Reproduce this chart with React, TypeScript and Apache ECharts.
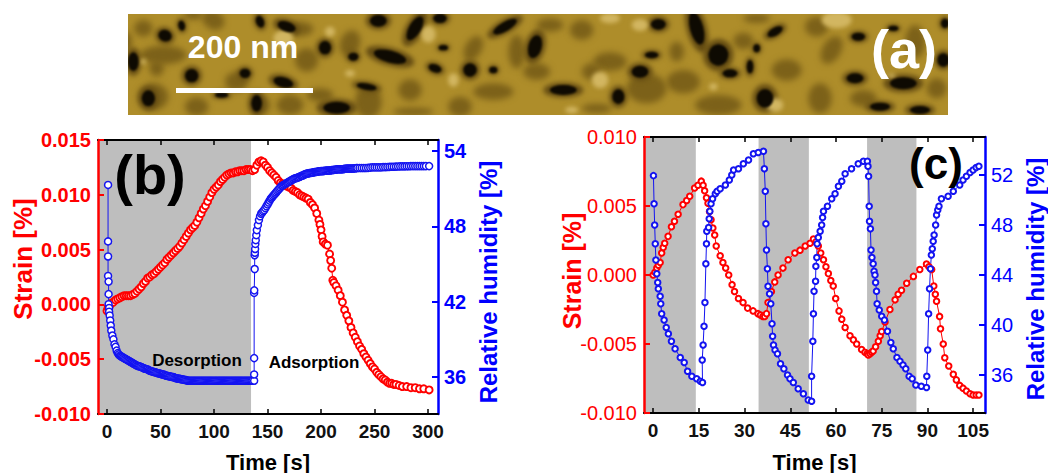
import React, { useEffect, useRef } from "react";
import * as echarts from "echarts";

const xTicksB = [0, 50, 100, 150, 200, 250, 300];
const xTicksC = [0, 15, 30, 45, 60, 75, 90, 105];
const rhTicksB = [36, 42, 48, 54];
const rhTicksC = [36, 40, 44, 48, 52];

const strainB: number[][] = [
  [0,-.0006],[1,-.0003],[2,-.0001],[3,0],[4,.0001],[6,.0002],[8,.0004],[10,.0005],[12,.0006],[14,.0007],[16,.0008],[18,.0008],[20,.0008],[22,.0008],[24,.0009],[26,.001],[28,.0012],[30,.0014],[32,.0016],[34,.0019],[36,.0021],[38,.0024],[40,.0025],[42,.0027],[44,.0028],[46,.003],[48,.0032],[50,.0034],[52,.0036],[54,.0038],[56,.0041],[58,.0043],[60,.0045],[62,.0047],[64,.0049],[66,.0051],[68,.0053],[70,.0056],[72,.0059],[74,.0062],[76,.0065],[78,.0068],[80,.007],[82,.0072],[84,.0075],[86,.0079],[88,.0083],[90,.0087],[92,.009],[94,.0094],[96,.0098],[98,.0102],[100,.0105],[102,.0107],[104,.0109],[106,.0112],[108,.0114],[110,.0116],[112,.0118],[114,.0119],[116,.012],[118,.012],[120,.0121],[122,.0121],[124,.0122],[126,.0122],[128,.0122],[130,.0123],[132,.0123],[134,.0123],[136,.0122],[138,.0123],[140,.0127],[142,.013],[144,.0131],[146,.013],[148,.0127],[150,.0125],[152,.0122],[154,.012],[156,.0118],[158,.0116],[160,.0113],[162,.0111],[164,.011],[166,.0109],[168,.0108],[170,.0107],[172,.0106],[174,.0104],[176,.0103],[178,.0102],[180,.01],[182,.0099],[184,.0098],[186,.0097],[188,.0096],[190,.0093],[192,.0091],[194,.0088],[196,.0083],[198,.0077],[199,.0073],[200,.0068],[201,.0062],[202,.0057],[204,.0055],[206,.0054],[208,.0046],[209,.004],[210,.0033],[211,.0022],[212,.002],[214,.0017],[216,.0013],[218,.0008],[220,.0002],[222,-.0005],[224,-.001],[226,-.0015],[228,-.0021],[230,-.0026],[232,-.003],[234,-.0034],[236,-.0038],[238,-.0041],[240,-.0045],[242,-.0048],[244,-.0051],[246,-.0054],[248,-.0057],[250,-.0059],[252,-.0062],[254,-.0064],[256,-.0066],[258,-.0068],[260,-.0069],[262,-.0071],[264,-.0072],[266,-.0072],[268,-.0073],[270,-.0073],[273,-.0074],[276,-.0075],[280,-.0075],[284,-.0076],[288,-.0076],[292,-.0077],[296,-.0077],[301,-.0078],
];
const humidityB: number[][] = [
  [1,51.3],[1,46.8],[1,45.6],[1,44.05],[1.5,43.6],[1.5,42.6],[1.5,41.8],[2,41.5],[2,41.2],[2.5,40.9],[3,40.5],[3.5,40.1],[4,39.7],[5,39.3],[6,39],[7,38.6],[8,38.4],[9,38.1],[10,37.9],[11,37.8],[12,37.7],[13,37.65],[14,37.6],[15,37.55],[16,37.5],[17,37.45],[18,37.4],[19,37.35],[20,37.3],[21,37.25],[22,37.2],[23,37.15],[24,37.1],[25,37.05],[26,37],[27,36.95],[28,36.9],[29,36.87],[30,36.85],[31,36.82],[32,36.8],[33,36.75],[34,36.7],[35,36.67],[36,36.65],[37,36.62],[38,36.6],[39,36.55],[40,36.5],[41,36.47],[42,36.45],[43,36.42],[44,36.4],[45,36.37],[46,36.35],[47,36.32],[48,36.3],[49,36.27],[50,36.25],[51,36.23],[52,36.2],[53,36.2],[54,36.15],[55,36.12],[56,36.1],[57,36.08],[58,36.05],[59,36.05],[60,36.02],[61,36],[62,36],[63,35.95],[64,35.92],[65,35.9],[66,35.88],[67,35.86],[68,35.85],[69,35.83],[70,35.82],[71,35.8],[72,35.78],[73,35.76],[74,35.75],[75,35.72],[76,35.7],[77,35.7],[78,35.7],[79,35.7],[80,35.7],[81,35.7],[82,35.7],[83,35.7],[84,35.7],[85,35.7],[86,35.7],[87,35.7],[88,35.7],[89,35.7],[90,35.7],[91,35.7],[92,35.7],[93,35.7],[94,35.7],[95,35.7],[96,35.7],[97,35.7],[98,35.7],[99,35.7],[100,35.7],[101,35.7],[102,35.7],[103,35.7],[104,35.7],[105,35.7],[106,35.7],[107,35.7],[108,35.7],[109,35.7],[110,35.7],[111,35.7],[112,35.7],[113,35.7],[114,35.7],[115,35.7],[116,35.7],[117,35.7],[118,35.7],[119,35.7],[120,35.7],[121,35.7],[122,35.7],[123,35.7],[124,35.7],[125,35.7],[126,35.7],[127,35.7],[128,35.7],[129,35.7],[130,35.7],[131,35.7],[132,35.7],[133,35.7],[134,35.7],[135,35.7],[136,35.7],[137.5,35.7],[137.5,36.2],[137.5,37.5],[137.5,42.7],[137.6,42.9],[138,44.6],[138,45.7],[138.2,45.9],[138.4,46.2],[138.6,46.6],[139,46.9],[139.5,47.3],[140,47.7],[141,48.1],[142,48.5],[143,48.8],[144,49],[145,49.1],[146,49.2],[147,49.3],[148,49.45],[149,49.6],[150,49.75],[151,49.9],[152,50.05],[153,50.2],[154,50.3],[155,50.4],[156,50.5],[157,50.6],[158,50.7],[159,50.8],[160,50.9],[161,51],[162,51.1],[163,51.2],[164,51.25],[165,51.3],[166,51.35],[167,51.4],[168,51.45],[169,51.5],[170,51.55],[171,51.6],[172,51.65],[173,51.7],[174,51.75],[175,51.8],[176,51.82],[177,51.85],[178,51.88],[179,51.9],[180,51.95],[181,52],[182,52.02],[183,52.05],[184,52.1],[185,52.15],[186,52.18],[187,52.2],[188,52.22],[189,52.24],[190,52.25],[191,52.27],[192,52.28],[193,52.3],[194,52.32],[195,52.33],[196,52.35],[197,52.36],[198,52.38],[199,52.39],[200,52.4],[201,52.4],[202,52.4],[203,52.42],[204,52.43],[205,52.44],[206,52.45],[207,52.45],[208,52.45],[209,52.47],[210,52.48],[211,52.49],[212,52.5],[213,52.51],[214,52.52],[215,52.54],[216,52.55],[217,52.55],[218,52.55],[219,52.55],[220,52.55],[221,52.57],[222,52.58],[223,52.59],[224,52.6],[225,52.6],[226,52.6],[227,52.6],[228,52.6],[229,52.61],[230,52.61],[231,52.62],[232,52.63],[233,52.64],[234,52.65],[236,52.65],[238,52.65],[240,52.65],[242,52.65],[244,52.66],[246,52.68],[248,52.7],[250,52.7],[252,52.7],[254,52.7],[256,52.7],[258,52.72],[260,52.72],[262,52.73],[264,52.74],[266,52.75],[268,52.75],[270,52.76],[272,52.77],[274,52.78],[276,52.78],[278,52.78],[280,52.79],[282,52.79],[284,52.8],[286,52.8],[288,52.8],[290,52.8],[292,52.8],[294,52.8],[296,52.8],[298,52.8],[301,52.8],
];
const strainC: number[][] = [
  [0,0],[.6,.0002],[1.2,.0005],[1.7,.0007],[2.3,.0009],[2.8,.0016],[3.3,.002],[3.8,.0023],[4.9,.0028],[6,.0035],[7,.0039],[8.2,.0044],[9.8,.0051],[11,.0054],[12,.0057],[13.6,.0063],[14.7,.0065],[15.8,.0068],[16.4,.0065],[16.9,.0061],[17.5,.0056],[18,.0052],[18.5,.0046],[19,.004],[19.6,.0034],[20.2,.0029],[20.7,.0021],[22,.0014],[22.9,.0009],[23.8,.0005],[24.8,0],[25.9,-.0007],[26.7,-.0012],[28,-.0017],[29.5,-.002],[31,-.0024],[32.8,-.0026],[34.4,-.0028],[35.2,-.0029],[36,-.003],[36.6,-.003],[37.2,-.0028],[37.7,-.002],[38.8,-.0012],[39.9,-.0005],[41,0],[42.6,.0005],[44.3,.0011],[46.5,.0016],[48.2,.0018],[49.9,.0021],[51.5,.0023],[52.6,.0026],[53.4,.0024],[54.2,.0021],[55,.0016],[55.9,.0011],[56.7,.0006],[57.5,.0001],[58.3,-.0004],[59.1,-.0008],[59.9,-.0017],[61,-.0026],[61.9,-.0032],[63,-.0038],[64.6,-.0044],[65.7,-.0047],[66.8,-.005],[68.4,-.0054],[69.5,-.0056],[70.2,-.0057],[70.6,-.0058],[71.2,-.0057],[71.7,-.0056],[72.2,-.0055],[73,-.0052],[73.9,-.0048],[74.5,-.0044],[75,-.0041],[76.1,-.0034],[77.7,-.0025],[79.4,-.0018],[80.4,-.0014],[81.5,-.0011],[83.2,-.0006],[85.4,-.0001],[87.5,.0004],[89.7,.0008],[90.5,.0006],[91.4,.0004],[92.1,-.0008],[92.6,-.0014],[93,-.0019],[94,-.003],[94.3,-.0039],[95.2,-.005],[95.7,-.006],[97,-.0066],[98.5,-.0072],[99.5,-.0076],[100.6,-.008],[101.7,-.0082],[102.8,-.0084],[104,-.0086],[105,-.0087],[106,-.0087],[106.9,-.0087],
];
const humidityC: number[][] = [
  [.1,51.95],[.3,49.7],[.5,48],[.7,46.5],[.9,45.2],[1.2,44.1],[1.5,43.4],[1.7,42.9],[2.3,42.3],[2.5,41.7],[2.8,40.9],[3.6,40.4],[4.3,39.8],[5,39.3],[6,38.7],[7.2,38.1],[8.9,37.4],[10.2,37],[11.3,36.3],[12.7,35.9],[14.3,35.7],[15.5,35.5],[16.2,35.4],
  [16.1,37.2],[16.4,38.4],[16.7,39.9],[17,41.8],[17.3,44.9],[17.5,46.5],[17.6,47.5],[18.2,47.8],[18.4,48.5],[18.6,49.1],[19,49.7],[19.5,50.1],[20.4,50.5],[21,50.7],[22,50.9],[23.7,51.2],[25,51.6],[25.8,52],[26.4,52.4],[28,52.5],[29.6,52.9],[31.3,53.2],[32.9,53.7],[34.5,53.8],[36.2,53.9],
  [36.5,52.5],[36.8,50.7],[37,48.1],[37.2,46],[37.5,44.5],[37.7,43.1],[38.2,42.5],[38.6,41.7],[39,40.1],[39.2,39.1],[39.5,38.4],[40,38],[40.8,37.7],[41.8,36.9],[42.9,36.5],[44.1,36],[44.9,35.7],[46,35.4],[47.6,34.9],[49.3,34.5],[50.9,34],[52,33.9],
  [52,35.9],[52.4,38.7],[52.6,40.9],[52.8,42.7],[53.3,43.5],[53.4,44.7],[53.7,45.4],[53.8,46.5],[54.2,47],[54.8,47.5],[55.3,48],[55.6,48.6],[55.9,49.1],[57.2,49.5],[58.6,50.1],[59.7,50.5],[60.8,51.1],[61.9,51.5],[63,52.1],[65.1,52.5],[67.3,52.9],[69,53.1],[70.3,53.1],
  [70.5,52.7],[70.7,51.9],[70.9,49.5],[71,48.3],[71.3,47.7],[71.5,46],[71.8,45.4],[72.2,44.9],[72.5,44.3],[72.8,44],[73,43.4],[73.3,42.7],[73.5,41.7],[74.2,41.2],[75,40.7],[75.9,40.4],[76.9,39.5],[78,38.6],[78.8,38.1],[80,37.4],[81,37.1],[82,36.8],[82.9,36.5],[84,35.9],[85,35.7],[86.2,35.2],[88,35.1],[89.7,35],
  [89.8,35.9],[90.1,38],[90.4,40.9],[90.7,42.9],[91,44.5],[91.3,45.6],[91.6,46.1],[91.9,46.7],[92.2,47.2],[92.7,48],[93,48.8],[93.4,49.2],[93.8,49.5],[94.6,50.1],[96.8,50.3],[98.5,50.7],[100.6,51.2],[101.7,51.6],[102.8,51.9],[104,52.2],[105,52.4],[106,52.6],[106.9,52.7],
];
const desorptionB = [[-8.4, 134.6]];
const desorptionC = [[-3, 14], [34.6, 51.1], [70.2, 86.4]];

// Micrograph features: [centre x, centre y, radius x, radius y, rotation°] in page pixels (from the reference crops)
const z5 = (a: number[]) => [120 + a[0] / 3, 5 + a[1] / 3, a[2] / 3, a[3] / 3, a[4] || 0];
const z6 = (a: number[]) => [530 + a[0] / 3, 5 + a[1] / 3, a[2] / 3, a[3] / 3, a[4] || 0];
const photoMid = [
  ...[[70,70,28,25],[280,45,35,28,30],[540,72,40,22],[110,190,22,24],[350,230,35,30],[100,275,45,40],[690,115,30,40,20],[745,290,40,50],[870,255,35,32],[1020,305,35,30],[560,165,35,35],[230,305,35,28],[510,300,40,30],[130,150,70,28],[1190,140,25,50],[420,300,30,30],[600,270,40,20],[1120,260,60,25],[1060,130,25,40,30],[880,320,60,12],[220,30,30,14],[20,110,16,30]].map(z5),
  ...[[155,75,35,30],[640,108,30,25],[770,195,45,32],[460,230,50,35],[350,250,60,45],[565,300,70,30],[240,170,50,28],[440,140,22,30],[905,135,28,45,30],[1155,110,30,50],[870,280,35,45],[185,200,30,25],[200,310,45,14],[860,65,35,30],[60,60,40,20],[20,200,40,25],[680,40,40,14],[1000,280,40,25],[1220,250,30,30]].map(z6),
];
const photoDark = [
  ...[[135,92,20,17,20],[185,62,10,15,-10],[420,50,12,18,-20],[500,65,28,15,20],[40,170,16,28],[215,212,20,20],[85,280,20,24],[375,205,16,14],[490,232,30,15,15],[615,128,18,20],[700,155,15,12],[775,47,25,18],[885,70,18,40,30],[810,155,50,18,15],[970,128,14,8],[945,190,20,12,20],[1050,195,20,20,20],[1155,65,40,14,-30],[960,40,20,14],[740,245,30,10,10],[650,308,40,18],[305,270,20,8],[410,295,16,25],[1120,195,12,10]].map(z5),
  ...[[15,125,20,35,15],[385,58,22,16],[500,70,20,50,-15],[565,150,30,32,10],[680,130,10,12],[735,80,25,12,-30],[985,95,20,12],[1090,70,15,8],[1240,165,18,20],[1245,55,12,14],[1120,235,40,18],[975,220,25,15],[600,205,22,12],[330,200,25,18],[265,275,18,22],[100,255,40,15],[705,280,25,28],[1050,305,30,12],[1170,315,30,12],[365,150,20,10],[660,185,10,20]].map(z6),
];
const photoLight = [
  ...[[490,100,30,25],[630,80,15,15],[925,88,22,25],[690,205,15,10],[1000,225,16,20],[70,170,8,8]].map(z5),
  ...[[550,245,12,10],[1085,212,12,6],[210,225,25,25],[125,315,20,10],[240,40,30,15],[330,60,25,18],[920,45,45,25],[735,300,25,20]].map(z6),
];

const PHOTO = { x: 128, y: 14, w: 820, h: 101 };

function makePhoto(): string {
  const c = document.createElement("canvas");
  c.width = PHOTO.w;
  c.height = PHOTO.h;
  const g = c.getContext("2d")!;
  g.fillStyle = "#AE8D2A";
  g.fillRect(0, 0, PHOTO.w, PHOTO.h);
  const paint = (list: number[][], colour: string, blur: number, grow = 1) => {
    g.filter = `blur(${blur}px)`;
    g.fillStyle = colour;
    for (const [x, y, rx, ry, r] of list) {
      g.beginPath();
      g.ellipse(x - PHOTO.x, y - PHOTO.y, rx * grow, ry * grow, (r * Math.PI) / 180, 0, Math.PI * 2);
      g.fill();
    }
  };
  paint(photoMid, "#7C6119", 3);
  paint(photoDark, "#624A12", 2.5, 1.5);
  paint(photoLight, "#D2B661", 2);
  paint(photoDark, "#0E0A02", 1.3);
  return c.toDataURL("image/png");
}

const FONT = "'Liberation Sans', Arial, sans-serif";

const xAxes = (gridIndex: number, min: number, max: number, ticks: number[], name: string, nameGap: number) => {
  const tick = { show: true, inside: true, length: 5, customValues: ticks, lineStyle: { color: "#000", width: 1.5 } };
  const line = { show: true, onZero: false, lineStyle: { color: "#000", width: 2 } };
  return [
    {
      type: "value", gridIndex, min, max, position: "bottom", z: 5, splitLine: { show: false }, axisLine: line, axisTick: tick,
      name, nameLocation: "middle", nameGap, nameMoveOverlap: false,
      nameTextStyle: { color: "#000", fontFamily: FONT, fontWeight: "bold", fontSize: 22 },
      axisLabel: { customValues: ticks, color: "#111", fontFamily: FONT, fontSize: 19, margin: 8, fontWeight: "bold", formatter: (v: number) => String(v) },
    },
    { type: "value", gridIndex, min, max, position: "top", z: 5, splitLine: { show: false }, axisLine: line, axisTick: tick, axisLabel: { show: false } },
  ];
};

const strainAxis = (gridIndex: number, max: number, nameGap: number, shift: number, nameSize: number, weight: string) => ({
  type: "value", gridIndex, min: -0.01, max, interval: 0.005, position: "left", z: 5, splitLine: { show: false },
  axisLine: { show: true, onZero: false, lineStyle: { color: "#FF0000", width: 2.5 } },
  axisTick: { show: true, inside: true, length: 6, lineStyle: { color: "#FF0000", width: 2 } },
  axisLabel: { color: "#FF0000", fontFamily: FONT, fontSize: 20, fontWeight: weight, margin: 7, formatter: (v: number) => v.toFixed(3) },
  name: "Strain [%]", nameLocation: "middle", nameGap, nameRotate: 90, nameMoveOverlap: false,
  nameTextStyle: { color: "#FF0000", fontFamily: FONT, fontWeight: "bold", fontSize: nameSize, padding: [0, 0, 0, shift] },
});

const rhAxis = (gridIndex: number, min: number, max: number, ticks: number[], nameGap: number, shiftDown: number, weight: string) => ({
  type: "value", gridIndex, min, max, position: "right", z: 5, splitLine: { show: false },
  axisLine: { show: true, onZero: false, lineStyle: { color: "#0000FF", width: 2.5 } },
  axisTick: { show: true, inside: true, length: 6, customValues: ticks, lineStyle: { color: "#0000FF", width: 2 } },
  axisLabel: { customValues: ticks, color: "#0000FF", fontFamily: FONT, fontSize: 20, fontWeight: weight, margin: 6, formatter: (v: number) => String(v) },
  name: "Relative humidity [%]", nameLocation: "middle", nameGap, nameRotate: 90, nameMoveOverlap: false,
  nameTextStyle: { color: "#0000FF", fontFamily: FONT, fontWeight: "bold", fontSize: 24, padding: [0, shiftDown, 0, 0] },
});

const curve = (name: string, data: number[][], colour: string, xAxisIndex: number, yAxisIndex: number, size: number, width: number, extra: object = {}) => ({
  type: "line", name, data, xAxisIndex, yAxisIndex, symbol: "circle", symbolSize: size, showSymbol: true, showAllSymbol: true, clip: false,
  lineStyle: { color: colour, width: 1 }, itemStyle: { color: "#fff", borderColor: colour, borderWidth: width },
  emphasis: { disabled: true }, silent: true, ...extra,
});

const bands = (spans: number[][]) => ({
  markArea: { silent: true, itemStyle: { color: "#BEBEBE" }, data: spans.map(([a, b]) => [{ xAxis: a }, { xAxis: b }]) },
});

const label = (text: string, x: number, y: number, fontSize: number, fill = "#000") => ({
  type: "text", x, y, z: 20, silent: true,
  style: { text, fill, fontFamily: FONT, fontWeight: "bold", fontSize, textAlign: "center", textVerticalAlign: "middle" },
});

export default function App() {
  const ref = useRef<HTMLDivElement>(null);
  useEffect(() => {
    const chart = echarts.init(ref.current!, undefined, { renderer: "svg" });
    chart.setOption({
      animation: false,
      backgroundColor: "#fff",
      grid: [
        { left: 98, top: 140, width: 340, height: 274, outerBoundsMode: "none" },
        { left: 644, top: 137, width: 341, height: 276, outerBoundsMode: "none" },
      ],
      xAxis: [...xAxes(0, -8.4, 309.3, xTicksB, "Time [s]", 37), ...xAxes(1, -3, 108.9, xTicksC, "Time [s]", 38)],
      yAxis: [
        strainAxis(0, 0.015, 62, 36, 26, "bold"),
        rhAxis(0, 33.05, 54.88, rhTicksB, 38, 10, "bold"),
        strainAxis(1, 0.01, 60, 8, 25, "normal"),
        rhAxis(1, 32.96, 55.04, rhTicksC, 38, 8, "normal"),
      ],
      series: [
        curve("Strain (b)", strainB, "#FF0000", 0, 0, 7, 1.9, bands(desorptionB)),
        curve("Relative humidity (b)", humidityB, "#1414F0", 0, 1, 7, 1.5),
        curve("Strain (c)", strainC, "#FF0000", 2, 2, 5.5, 2, bands(desorptionC)),
        curve("Relative humidity (c)", humidityC, "#1414F0", 2, 3, 5.5, 2),
      ],
      graphic: [
        { type: "image", z: 1, silent: true, style: { image: makePhoto(), x: PHOTO.x, y: PHOTO.y, width: PHOTO.w, height: PHOTO.h } },
        { type: "rect", z: 10, silent: true, shape: { x: 176, y: 88, width: 137, height: 5 }, style: { fill: "#fff" } },
        label("200 nm", 243, 47, 32, "#fff"),
        label("(a)", 904, 49, 54, "#fff"),
        label("(b)", 150, 174, 56),
        label("(c)", 936, 163, 44),
        label("Desorption", 197, 360, 17),
        label("Adsorption", 314, 362, 17),
      ],
    });
    return () => chart.dispose();
  }, []);
  return <div ref={ref} style={{ position: "fixed", left: 0, top: 0, width: 1048, height: 473 }} />;
}
